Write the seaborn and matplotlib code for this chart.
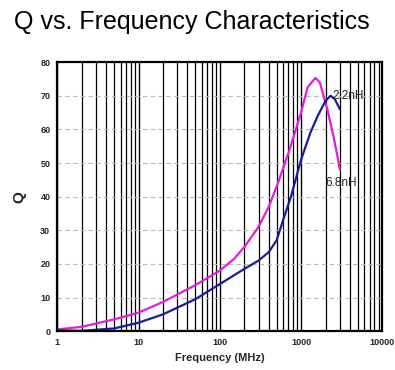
import matplotlib
matplotlib.use("Agg")
import matplotlib.pyplot as plt
import seaborn as sns
import pandas as pd
from matplotlib.ticker import LogLocator, FixedLocator, FixedFormatter, NullFormatter

sns.set_theme(style="white")
plt.rcParams['font.family'] = ['Liberation Sans', 'DejaVu Sans']

freq_68 = [1, 2, 5, 10, 20, 50, 100, 150, 200, 300, 400, 500, 700, 1000, 1200, 1500, 1700, 2100, 2500, 2800, 3000]
q_68 = [0.5, 1.3, 3.5, 5.5, 8.7, 13.7, 18, 21.5, 25, 31, 37, 43, 53, 65, 72.5, 75.3, 74, 66, 58, 52, 48]
freq_22 = [1, 2, 5, 10, 20, 50, 100, 200, 300, 400, 500, 600, 750, 1000, 1300, 1600, 2000, 2300, 2600, 3000]
q_22 = [0.2, 0.1, 0.8, 2.5, 5, 9.5, 14, 18.5, 21, 23.5, 27, 33, 40, 51, 59, 64, 68.5, 70, 69, 66]
x_ticks = [1, 10, 100, 1000, 10000]
x_tick_labels = ["1", "10", "100", "1000", "10000"]
y_ticks = [0, 10, 20, 30, 40, 50, 60, 70, 80]
series_labels = ["6.8nH", "2.2nH"]

df = pd.concat([
    pd.DataFrame({"f": freq_68, "Q": q_68, "s": series_labels[0]}),
    pd.DataFrame({"f": freq_22, "Q": q_22, "s": series_labels[1]}),
])

fig = plt.figure(figsize=(3.95, 3.7), dpi=100)
ax = fig.add_axes([0.145, 0.105, 0.823, 0.727])
sns.lineplot(data=df, x="f", y="Q", hue="s", palette={"6.8nH": "#e020dc", "2.2nH": "#1c1c96"},
             ax=ax, legend=False, linewidth=1.6, sort=False)
ax.set_xscale("log")
ax.set_xlim(1, 10000)
ax.set_ylim(0, 80)
ax.xaxis.set_major_locator(FixedLocator(x_ticks))
ax.xaxis.set_major_formatter(FixedFormatter(x_tick_labels))
ax.xaxis.set_minor_locator(LogLocator(base=10, subs=range(2, 10)))
ax.xaxis.set_minor_formatter(NullFormatter())
ax.set_yticks(y_ticks)
ax.grid(True, which="major", axis="x", color="black", linewidth=1.0)
ax.grid(True, which="minor", axis="x", color="black", linewidth=0.9)
ax.grid(True, which="major", axis="y", color="#bbbbbb", linewidth=0.8, linestyle=(0, (4, 3)))
for sp in ax.spines.values():
    sp.set_color("black")
    sp.set_linewidth(1.6)
ax.tick_params(axis="both", which="both", length=0, labelsize=6.5, pad=5)
for lab in ax.get_xticklabels() + ax.get_yticklabels():
    lab.set_fontweight("bold")
ax.set_xlabel("Frequency (MHz)", fontsize=8, fontweight="bold", labelpad=4)
ax.set_ylabel("Q", fontsize=11, fontweight="bold", rotation=90, labelpad=10)
ax.text(2450, 70, series_labels[1], fontsize=8.5, color="#222222", va="center", ha="left")
ax.text(2000, 44, series_labels[0], fontsize=8.5, color="#222222", va="center", ha="left")
fig.text(0.035, 0.94, "Q vs. Frequency Characteristics", fontsize=18, ha="left", va="center", color="black")
fig.savefig("out.png", dpi=100)
